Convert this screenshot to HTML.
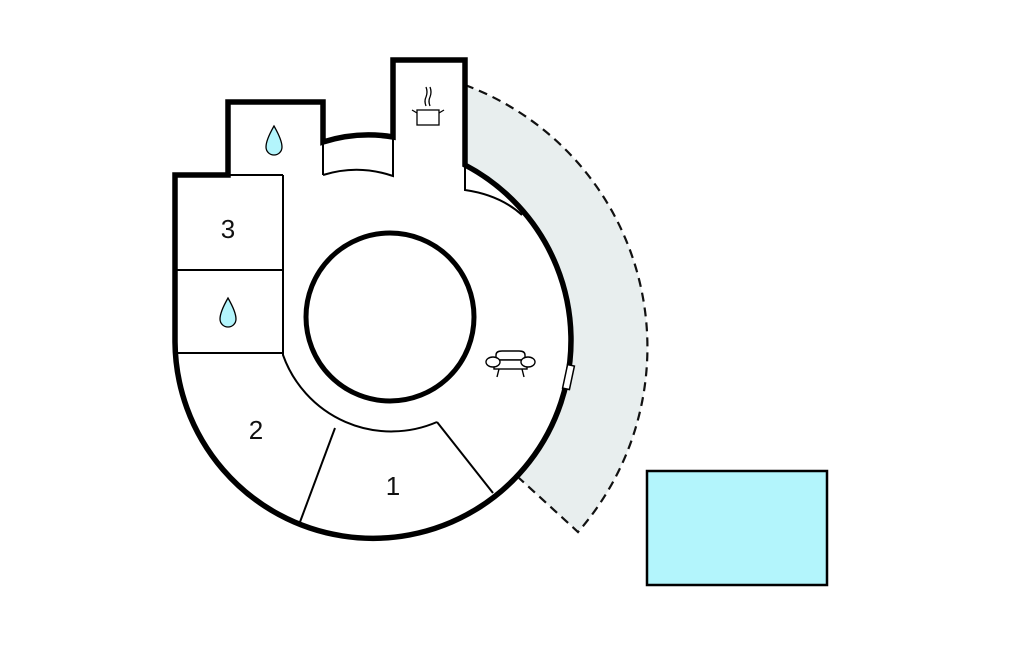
<!DOCTYPE html>
<html><head><style>html,body{margin:0;padding:0;background:#fff;}svg{display:block}</style></head>
<body>
<svg width="1024" height="652" viewBox="0 0 1024 652" xmlns="http://www.w3.org/2000/svg">
<!-- terrace -->
<path d="M465,85 L465,165 A198,198 0 0 1 519,478 L578,532 A280,280 0 0 0 465,85 Z" fill="#e8eeee" stroke="none"/>
<path d="M465,85 A280,280 0 0 1 578,532 L519,478" fill="none" stroke="#111" stroke-width="2.2" stroke-dasharray="9,6"/>
<!-- inner circle -->
<circle cx="390" cy="317" r="84" fill="#fff" stroke="#000" stroke-width="5"/>
<!-- thin interior lines -->
<g fill="none" stroke="#000" stroke-width="2">
<path d="M283,175 L283,355 A115,115 0 0 0 437,422"/>
<path d="M335,428 L300,522"/>
<path d="M437,422 L493,493"/>
<path d="M175,270 L283,270"/>
<path d="M175,353 L283,353"/>
<path d="M228,175 L283,175"/>
<path d="M323,175 Q358,164 393,176 L393,137"/>
<path d="M323,142 L323,175"/>
<path d="M465,165 L465,190 Q500,195 522,215"/>
</g>
<!-- outer walls -->
<path d="M175,175 L175,342 A198,198 0 1 0 465,165 L465,60 L393,60 L393,137 Q358,131 323,142 L323,102 L228,102 L228,175 Z" fill="none" stroke="#000" stroke-width="5.5" stroke-linejoin="miter"/>
<!-- window -->
<rect x="565" y="365" width="7" height="24" fill="#fff" stroke="#000" stroke-width="1.5" transform="rotate(12 568 377)"/>
<!-- drops -->
<path d="M274,126 Q266,140 266,147 A8,8 0 0 0 282,147 Q282,140 274,126 Z" fill="#b3f5fc" stroke="#000" stroke-width="1.3"/>
<path d="M228,298 Q220,312 220,319 A8,8 0 0 0 236,319 Q236,312 228,298 Z" fill="#b3f5fc" stroke="#000" stroke-width="1.3"/>
<!-- pot -->
<g fill="none" stroke="#000" stroke-width="1.3">
<rect x="417" y="110" width="22" height="15" fill="#fff"/>
<path d="M417,113 L412,110 M439,113 L444,110"/>
<path d="M426,106 Q424,101 426,97 Q428,92 426,87 M430,106 Q428,101 430,97 Q432,92 430,87"/>
</g>
<!-- sofa -->
<g fill="#fff" stroke="#000" stroke-width="1.4">
<path d="M496,360 L496,355 Q496,351 502,351 L519,351 Q525,351 525,355 L525,360 Z"/>
<rect x="494" y="360" width="33" height="9"/>
<ellipse cx="493" cy="362" rx="7" ry="5"/>
<ellipse cx="528" cy="362" rx="7" ry="5"/>
<path d="M499,369 L497,377 M522,369 L524,377" fill="none"/>
</g>
<!-- labels -->
<g font-family="Liberation Sans, sans-serif" font-size="26" text-anchor="middle" fill="#111">
<text x="228" y="238">3</text>
<text x="256" y="439">2</text>
<text x="393" y="495">1</text>
</g>
<!-- pool -->
<rect x="647" y="471" width="180" height="114" fill="#b3f5fc" stroke="#000" stroke-width="2.5"/>
</svg>
</body></html>
